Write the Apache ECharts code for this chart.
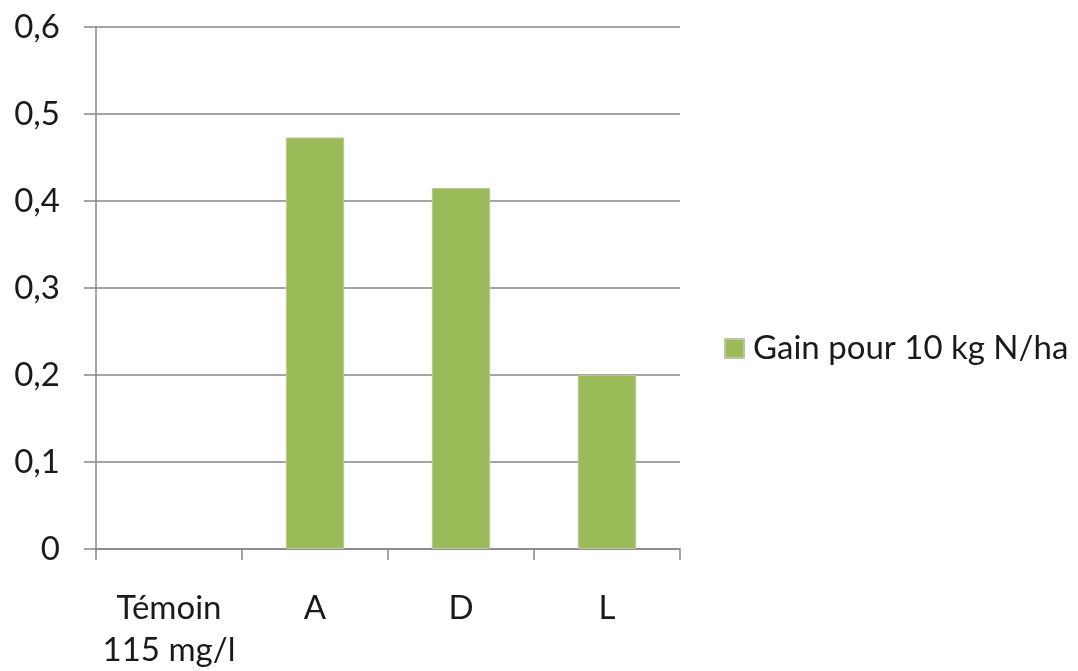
<!DOCTYPE html>
<html>
<head>
<meta charset="utf-8">
<script src="https://cdn.jsdelivr.net/npm/echarts@6/dist/echarts.min.js"></script>
<style>
  html, body { margin: 0; padding: 0; background: #ffffff; }
  #chart { width: 1078px; height: 671px; }
</style>
</head>
<body>
<div id="chart"></div>
<script>
// Treatments along the x axis
const categories = ['Témoin\n115 mg/l', 'A', 'D', 'L'];
// Gain per 10 kg N/ha for each treatment (the control has no value)
const gainValues = [null, 0.473, 0.415, 0.2];
const seriesName = 'Gain pour 10 kg N/ha';
// Value axis range and step
const yMin = 0;
const yMax = 0.6;
const yStep = 0.1;

const FONT = 'Lato, "Open Sans", sans-serif';
const FONT_SIZE = 33;
const TEXT_COLOR = '#1a1a1a';
const AXIS_GREY = '#868686';

const chart = echarts.init(document.getElementById('chart'), null, { renderer: 'canvas' });

chart.setOption({
  animation: false,
  backgroundColor: '#ffffff',
  textStyle: { fontFamily: FONT },
  grid: { left: 96, right: 398, top: 27, bottom: 122, containLabel: false },
  legend: {
    data: [seriesName],
    orient: 'vertical',
    left: 724,
    top: 332,
    padding: 0,
    icon: 'rect',
    itemWidth: 19,
    itemHeight: 19,
    itemGap: 4,
    textStyle: { fontFamily: FONT, fontSize: FONT_SIZE, color: TEXT_COLOR, padding: [0, 0, 0, 4] }
  },
  xAxis: {
    type: 'category',
    data: categories,
    axisLine: { lineStyle: { color: AXIS_GREY, width: 1.5 } },
    axisTick: { show: true, length: 11, alignWithLabel: false, lineStyle: { color: AXIS_GREY, width: 1.5 } },
    axisLabel: {
      fontFamily: FONT,
      fontSize: FONT_SIZE,
      color: TEXT_COLOR,
      margin: 38,
      lineHeight: 42,
      interval: 0
    }
  },
  yAxis: {
    type: 'value',
    min: yMin,
    max: yMax,
    interval: yStep,
    axisLine: { show: true, lineStyle: { color: AXIS_GREY, width: 1.5 } },
    axisTick: { show: true, length: 12, lineStyle: { color: AXIS_GREY, width: 1.5 } },
    splitLine: { show: true, lineStyle: { color: AXIS_GREY, width: 1.5 } },
    axisLabel: {
      fontFamily: FONT,
      fontSize: FONT_SIZE,
      color: TEXT_COLOR,
      margin: 36,
      formatter: v => String(Math.round(v * 10) / 10).replace('.', ',')
    }
  },
  series: [{
    name: seriesName,
    type: 'bar',
    data: gainValues,
    barWidth: '40%',
    itemStyle: { color: '#9BBB59', borderColor: '#b9c8a0', borderWidth: 1 }
  }]
});
</script>
</body>
</html>
